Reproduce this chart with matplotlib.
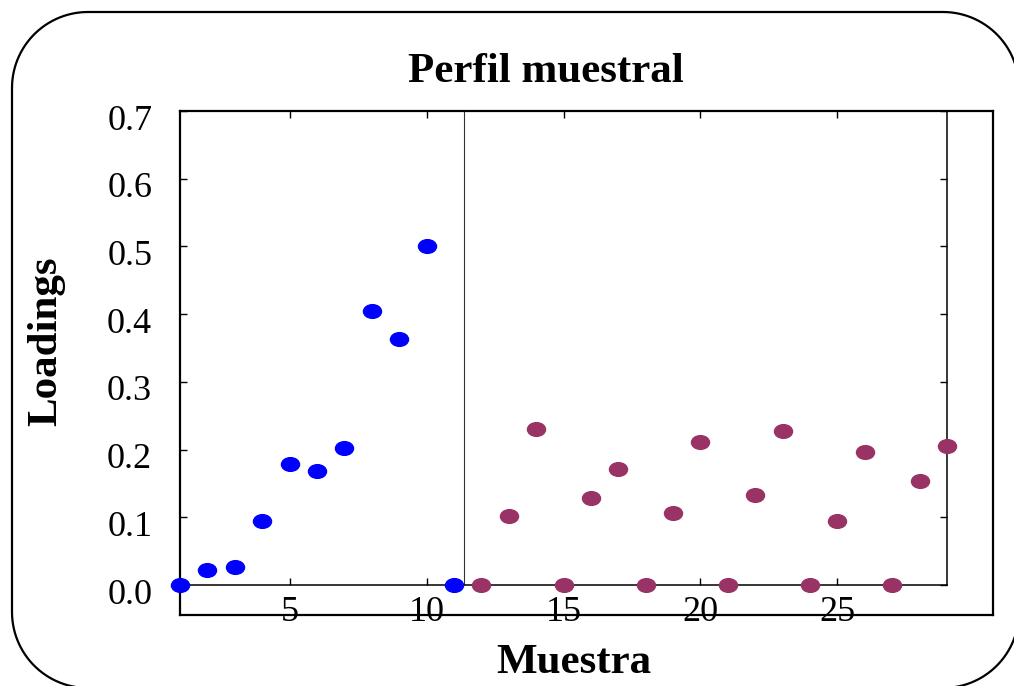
import numpy as np
import matplotlib
matplotlib.use("Agg")
import matplotlib.pyplot as plt
from matplotlib.path import Path
from matplotlib.patches import PathPatch
from matplotlib.transforms import Affine2D, IdentityTransform, ScaledTranslation

plt.rcParams['font.family'] = ['Liberation Serif', 'DejaVu Serif']

# data
group1_x = [1, 2, 3, 4, 5, 6, 7, 8, 9, 10, 11]
group1_y = [0.0, 0.022, 0.027, 0.094, 0.179, 0.169, 0.202, 0.405, 0.364, 0.500, 0.0]
group2_x = [12, 13, 14, 15, 16, 17, 18, 19, 20, 21, 22, 23, 24, 25, 26, 27, 28, 29]
group2_y = [0.0, 0.102, 0.230, 0.0, 0.128, 0.172, 0.0, 0.106, 0.211, 0.0,
            0.133, 0.227, 0.0, 0.094, 0.197, 0.0, 0.153, 0.205]
x_ticks = [5, 10, 15, 20, 25]
y_ticks = [0.0, 0.1, 0.2, 0.3, 0.4, 0.5, 0.6, 0.7]
divider_x = 11.35

W, H = 1014, 686
fig = plt.figure(figsize=(W / 100, H / 100), dpi=100)

def px_rect(left, top, right, bottom):
    return [left / W, 1 - bottom / H, (right - left) / W, (bottom - top) / H]

def rounded_box(x0, y0, x1, y1, r):
    # corners in display pixels, origin bottom-left
    verts = []
    for cx, cy, a0 in [(x1 - r, y0 + r, -90), (x1 - r, y1 - r, 0),
                       (x0 + r, y1 - r, 90), (x0 + r, y0 + r, 180)]:
        t = np.radians(np.linspace(a0, a0 + 90, 30))
        verts += list(zip(cx + r * np.cos(t), cy + r * np.sin(t)))
    verts.append(verts[0])
    return Path(verts)

# rounded outer border (pixel coords)
border = PathPatch(rounded_box(12, -2, 1019, 674, 76), transform=IdentityTransform(),
                   facecolor='none', edgecolor='black', linewidth=1.6, clip_on=False)
fig.patches.append(border)

# outer frame
frame = fig.add_axes(px_rect(180, 111, 993, 615))
frame.set_xticks([])
frame.set_yticks([])
for s in frame.spines.values():
    s.set_linewidth(1.6)

# data axes
ax = fig.add_axes(px_rect(180, 111, 947, 585))
ax.patch.set_alpha(0)
ax.set_xlim(1, 29)
ax.set_ylim(0, 0.7)
for s in ax.spines.values():
    s.set_linewidth(1.1)

ellipse = Path.unit_circle().transformed(Affine2D().scale(1, 0.76))
ax.plot(group1_x, group1_y, ls='none', marker=ellipse, ms=13, color='#0000ff', clip_on=False, zorder=3)
ax.plot(group2_x, group2_y, ls='none', marker=ellipse, ms=13, color='#993366', clip_on=False, zorder=3)
ax.axvline(divider_x, color='#333333', lw=0.8)

ax.set_xticks(x_ticks)
ax.set_yticks(y_ticks)
ax.set_yticklabels([f"{v:.1f}" for v in y_ticks])
ax.tick_params(direction='in', length=5, width=1, top=True, right=True, labelsize=26)
ax.tick_params(axis='y', pad=20)
ax.tick_params(axis='x', pad=8)
offset = ScaledTranslation(0, -6 / 100, fig.dpi_scale_trans)
for lab in ax.get_yticklabels():
    lab.set_transform(lab.get_transform() + offset)

fig.text(546 / W, 1 - 82 / H, "Perfil muestral", ha='center', va='baseline',
         fontsize=31, fontweight='bold')
fig.text(574 / W, 1 - 673 / H, "Muestra", ha='center', va='baseline',
         fontsize=31, fontweight='bold')
fig.text(46 / W, 1 - 341 / H, "Loadings", ha='center', va='center', rotation=90,
         fontsize=31, fontweight='bold')

fig.savefig("out.png", dpi=100)
